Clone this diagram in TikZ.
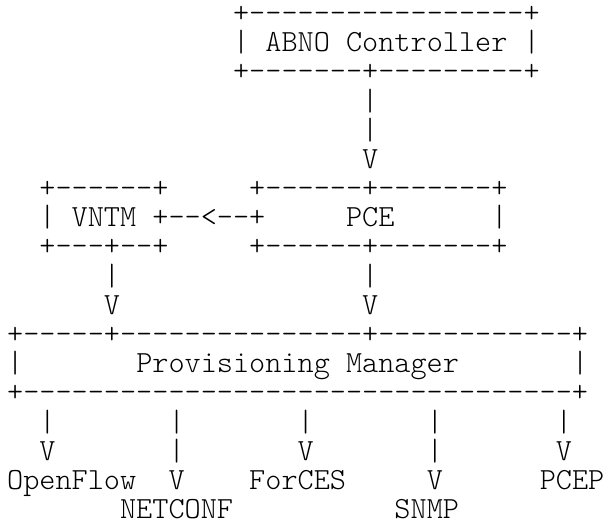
\documentclass[tikz,border=0pt]{standalone}
\usepackage{fontspec}
\setmonofont{lmmonolt10-regular.otf}

\tikzset{
  ascii/.style = {font=\ttfamily\fontsize{30.74}{32}\selectfont, inner sep=0pt,
                  anchor=base west, xshift=6.93pt, yshift=-22.5pt},
}

\begin{document}
\begin{tikzpicture}[x=16.14pt, y=-29.18pt]
        \useasboundingbox (0pt,0pt) rectangle (603pt,-525pt);

        % ------------------------------------------------------------------------
        % ABNO Controller
        \node[ascii] at (14, 0) (abnotop) {+-----------------+};
        \node[ascii] at (14, 1) (abno)    {| ABNO Controller |};
        \node[ascii] at (14, 2) (abnobot) {+-------+---------+};

        \node[ascii] at (22, 3) (abnobarA) {|};
        \node[ascii] at (22, 4) (abnobarB) {|};
        \node[ascii] at (22, 5) (abnohead) {V};

        % ------------------------------------------------------------------------
        % VNTM and PCE
        \node[ascii] at ( 2, 6) (vntmtop) {+------+};
        \node[ascii] at (15, 6) (pcetop)  {+------+-------+};

        \node[ascii] at ( 2, 7) (vntm)    {| VNTM +--<--+};
        \node[ascii] at (21, 7) (pce)     {PCE};
        \node[ascii] at (30, 7) (pceside) {|};

        \node[ascii] at ( 2, 8) (vntmbot) {+---+--+};
        \node[ascii] at (15, 8) (pcebot)  {+------+-------+};

        \node[ascii] at ( 6, 9)  (vntmbar)  {|};
        \node[ascii] at (22, 9)  (pcebar)   {|};
        \node[ascii] at ( 6, 10) (vntmhead) {V};
        \node[ascii] at (22, 10) (pcehead)  {V};

        % ------------------------------------------------------------------------
        % Provisioning Manager
        \node[ascii] at ( 0, 11) (pmtop)   {+-----+---------------+------------+};
        \node[ascii] at ( 0, 12) (pmleft)  {|};
        \node[ascii] at ( 8, 12) (pm)      {Provisioning Manager};
        \node[ascii] at (35, 12) (pmright) {|};
        \node[ascii] at ( 0, 13) (pmbot)   {+----------------------------------+};

        % ------------------------------------------------------------------------
        % Protocols
        \foreach \c/\n in {2/a, 10/b, 18/c, 26/d, 34/e}
          \node[ascii] at (\c, 14) (bar\n) {|};

        \node[ascii] at ( 2, 15) (headof)  {V};
        \node[ascii] at (10, 15) (barnc)   {|};
        \node[ascii] at (18, 15) (headfc)  {V};
        \node[ascii] at (26, 15) (barsnmp) {|};
        \node[ascii] at (34, 15) (headpc)  {V};

        \node[ascii] at ( 0, 16) (openflow) {OpenFlow};
        \node[ascii] at (10, 16) (headnc)   {V};
        \node[ascii] at (15, 16) (forces)   {ForCES};
        \node[ascii] at (26, 16) (headsnmp) {V};
        \node[ascii] at (33, 16) (pcep)     {PCEP};

        \node[ascii] at ( 7, 17) (netconf) {NETCONF};
        \node[ascii] at (24, 17) (snmp)    {SNMP};
      \end{tikzpicture}
\end{document}
